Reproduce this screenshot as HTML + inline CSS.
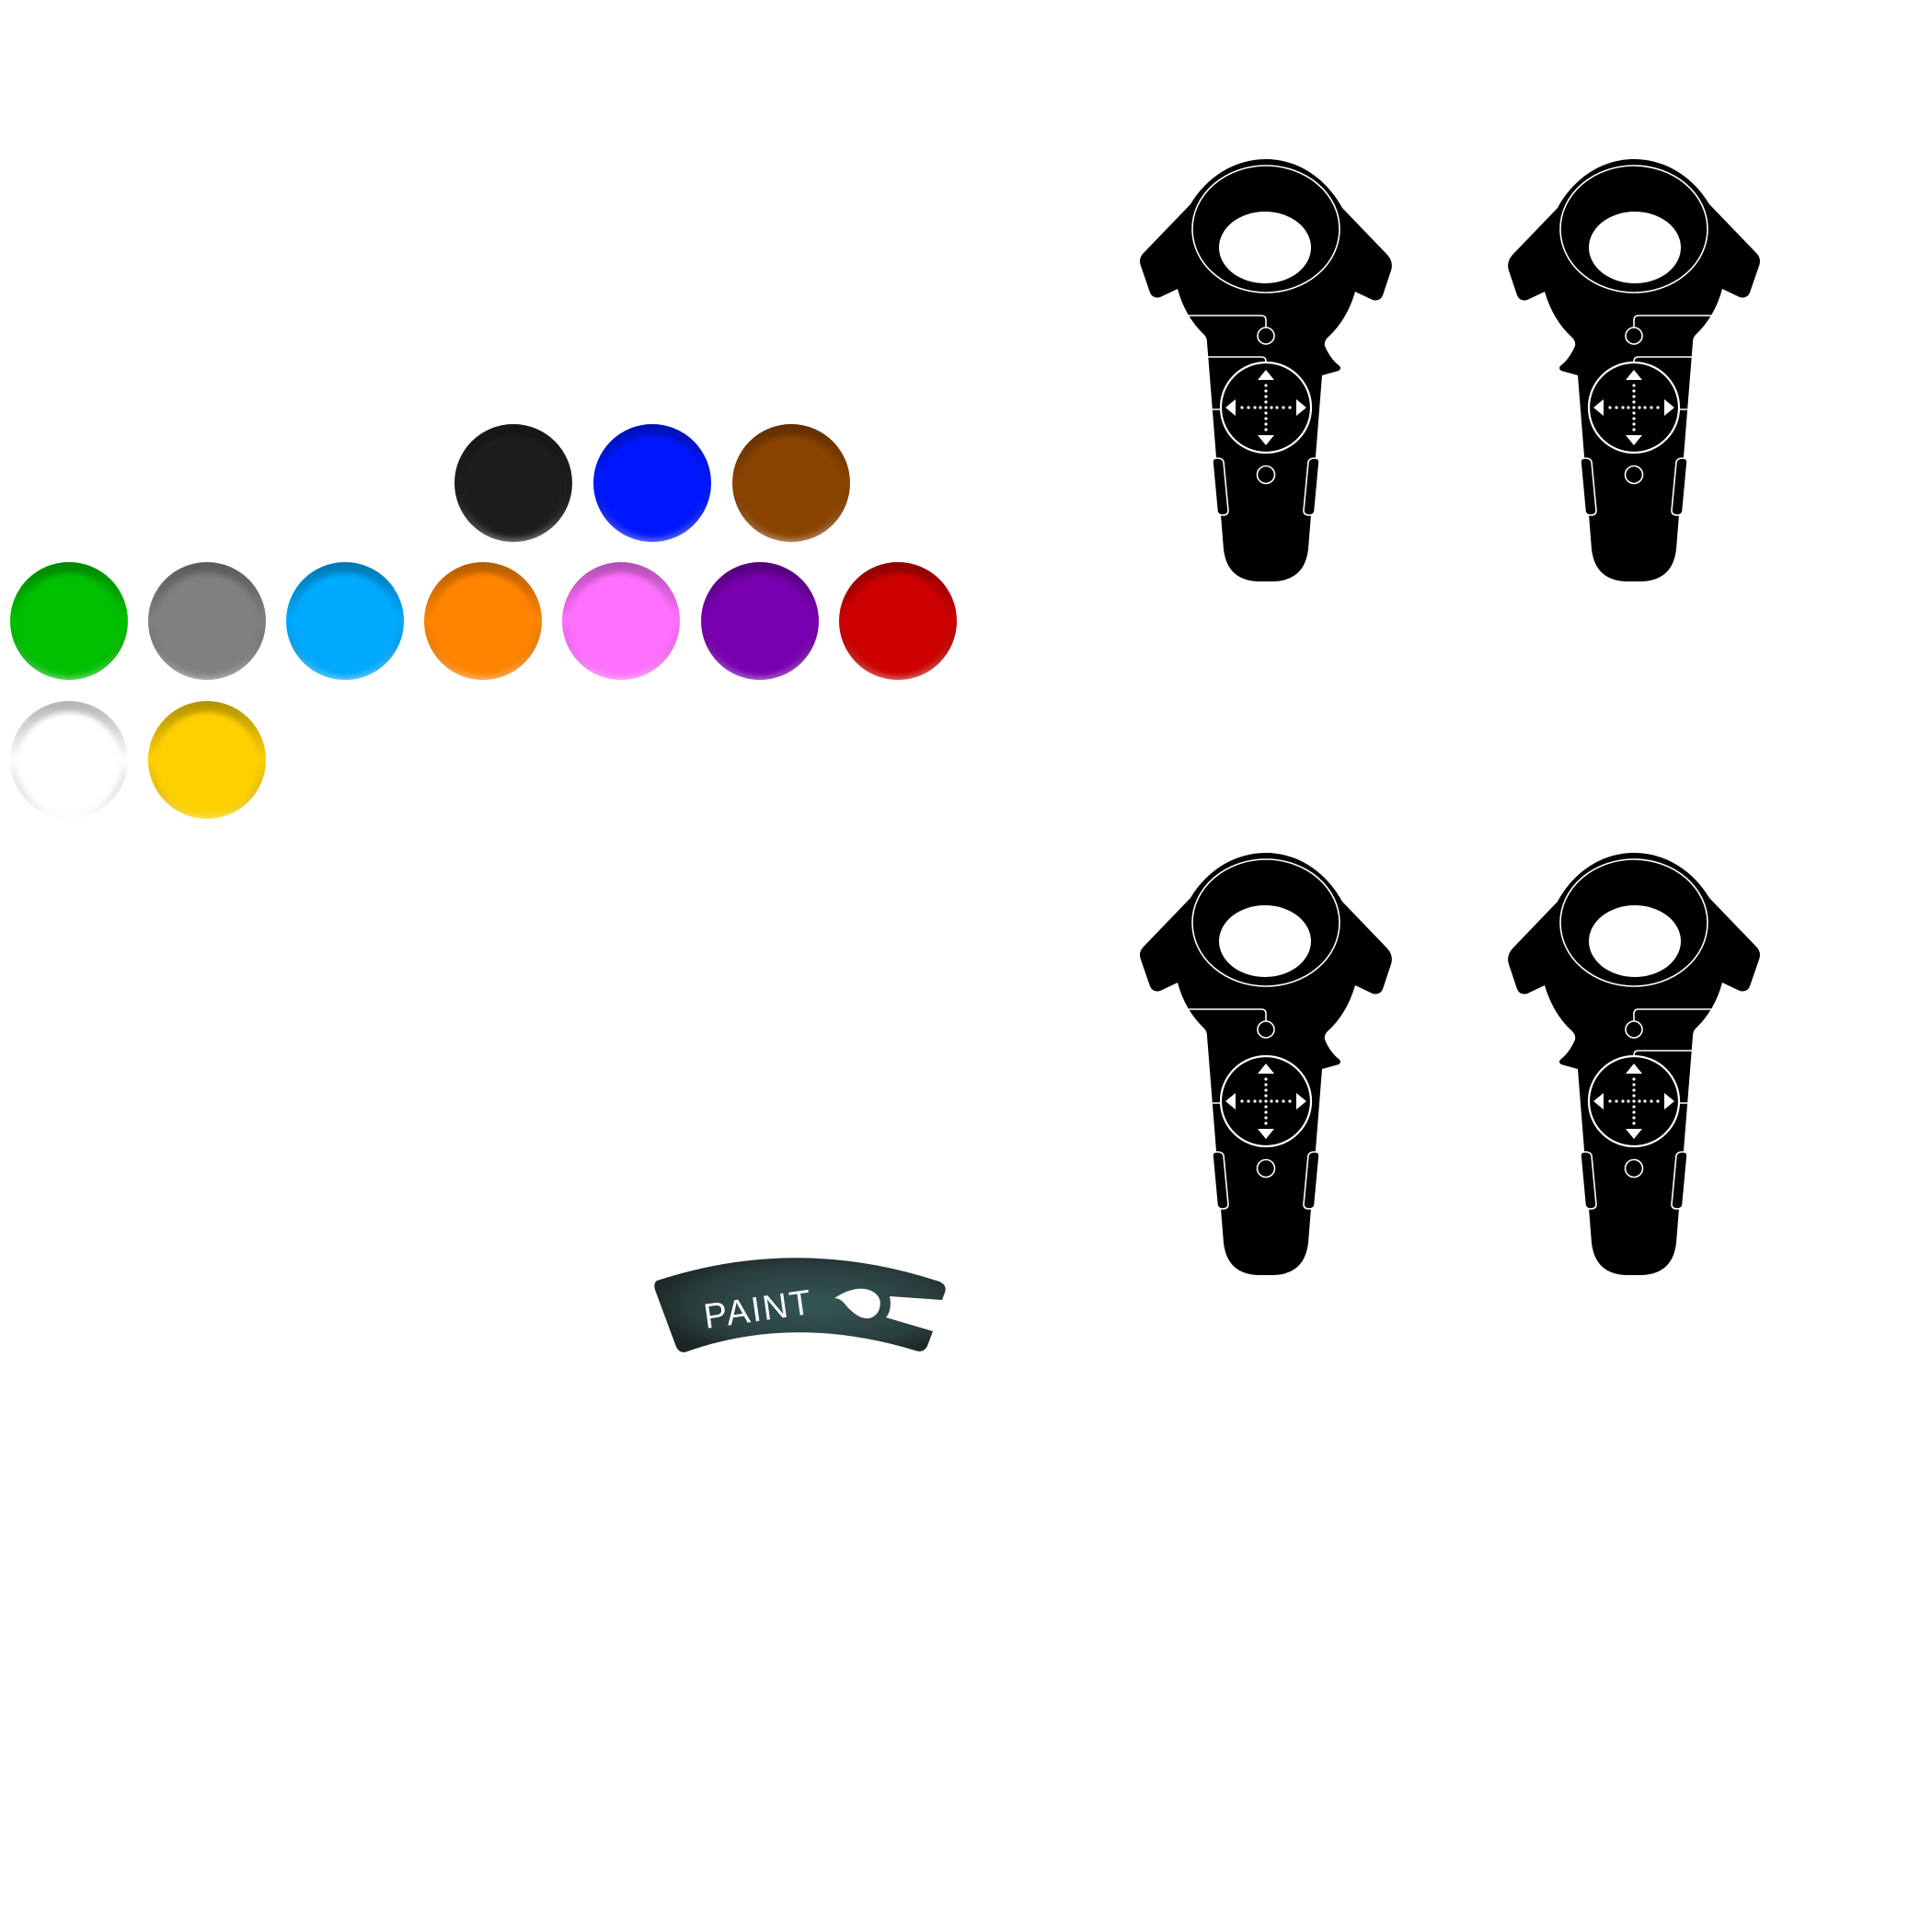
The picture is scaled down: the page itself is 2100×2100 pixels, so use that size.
<!DOCTYPE html>
<html><head><meta charset="utf-8"><style>html,body{margin:0;padding:0;background:#fff}svg{display:block}</style></head>
<body>
<svg width="2100" height="2100" viewBox="0 0 2100 2100" xmlns="http://www.w3.org/2000/svg">
<defs>
<linearGradient id="rim" x1="0" y1="0" x2="0" y2="1">
<stop offset="0" stop-color="#000" stop-opacity="0.3"/>
<stop offset="0.5" stop-color="#000" stop-opacity="0"/>
<stop offset="1" stop-color="#fff" stop-opacity="0.35"/>
</linearGradient>
<filter id="bl" x="-20%" y="-20%" width="140%" height="140%"><feGaussianBlur stdDeviation="3"/></filter>
<radialGradient id="badge" cx="0.55" cy="0.5" r="0.6">
<stop offset="0" stop-color="#345757"/>
<stop offset="0.7" stop-color="#2a3d3d"/>
<stop offset="1" stop-color="#1c2424"/>
</radialGradient>
<g id="ball"><circle r="64" fill="currentColor"/><circle r="64" fill="url(#rim)"/><circle cy="4" r="56" fill="currentColor" filter="url(#bl)"/></g>
<g id="ctrlbase">
<path d="M146,13 C112,13 82,32 64,62 L13,115 Q7,121 10,129 L20,158 Q23,165 31,163 L50,154 Q58,184 79,204 Q82,207 82,212 L100,437 Q104,472 140,472 L152,472 Q188,472 192,437 L207,248 L225,243 Q229,240 225,237 Q216,230 210,216 Q209,211 213,207 Q234,188 243,157 L262,166 Q270,168 273,161 L282,134 Q285,125 278,117 L229,66 C211,33 180,13 146,13 Z" fill="#000"/>
<ellipse cx="146" cy="89" rx="80" ry="69" fill="none" stroke="#fff" stroke-width="1.6"/>
<ellipse cx="145" cy="109" rx="50" ry="39" fill="#fff"/>
<circle cx="146" cy="205" r="9" fill="none" stroke="#fff" stroke-width="1.6"/>
<circle cx="146" cy="283" r="49" fill="none" stroke="#fff" stroke-width="2.2"/>
<circle cx="146" cy="356" r="9.5" fill="none" stroke="#fff" stroke-width="1.6"/>
<path d="M146,242 L155,253 L137,253 Z M146,324 L155,313 L137,313 Z M102,283 L113,274 L113,292 Z M190,283 L179,274 L179,292 Z" fill="#fff"/>
<g fill="#fff"><circle cx="146" cy="259" r="1.6"/><circle cx="146" cy="265" r="1.6"/><circle cx="146" cy="271" r="1.6"/><circle cx="146" cy="277" r="1.6"/><circle cx="146" cy="283" r="1.6"/><circle cx="146" cy="289" r="1.6"/><circle cx="146" cy="295" r="1.6"/><circle cx="146" cy="301" r="1.6"/><circle cx="146" cy="307" r="1.6"/>
<circle cx="120" cy="283" r="1.6"/><circle cx="127" cy="283" r="1.6"/><circle cx="134" cy="283" r="1.6"/><circle cx="140" cy="283" r="1.6"/><circle cx="152" cy="283" r="1.6"/><circle cx="158" cy="283" r="1.6"/><circle cx="165" cy="283" r="1.6"/><circle cx="172" cy="283" r="1.6"/></g>
<path d="M88,342 Q88,338 93,338 Q99,338 100,342 L105,395 Q105,400 99,400 Q94,400 93,396 Z" fill="#000" stroke="#fff" stroke-width="1.6"/>
<path d="M204,342 Q204,338 199,338 Q193,338 192,342 L187,395 Q187,400 193,400 Q198,400 199,396 Z" fill="#000" stroke="#fff" stroke-width="1.6"/>
<line x1="88" y1="285" x2="97" y2="285" stroke="#fff" stroke-width="1.5"/>
<path d="M60,183 L141,183 Q146,183 146,188 L146,196" fill="none" stroke="#fff" stroke-width="1.6"/>
</g>
<path id="l2" d="M82,228 L141,228 Q146,228 146,233 L146,234" fill="none" stroke="#fff" stroke-width="1.6"/>
</defs>

<use href="#ball" x="558" y="525" color="#1e1e1e"/>
<use href="#ball" x="709" y="525" color="#0019ff"/>
<use href="#ball" x="860" y="525" color="#8a4300"/>
<use href="#ball" x="75" y="675" color="#00c000"/>
<use href="#ball" x="225" y="675" color="#808080"/>
<use href="#ball" x="375" y="675" color="#00aaff"/>
<use href="#ball" x="525" y="675" color="#ff8400"/>
<use href="#ball" x="675" y="675" color="#ff70ff"/>
<use href="#ball" x="826" y="675" color="#7800b0"/>
<use href="#ball" x="976" y="675" color="#cc0000"/>
<use href="#ball" x="75" y="826" color="#ffffff"/>
<use href="#ball" x="225" y="826" color="#ffd000"/>

<g transform="translate(1230,160)"><use href="#ctrlbase"/><use href="#l2"/></g>
<g transform="translate(1922,160) scale(-1,1)"><use href="#ctrlbase"/><use href="#l2"/></g>
<g transform="translate(1230,914)"><use href="#ctrlbase"/></g>
<g transform="translate(1922,914) scale(-1,1)"><use href="#ctrlbase"/><use href="#l2"/></g>

<path d="M714,1392 Q867,1342 1021,1393 Q1030,1397 1027,1405 L1024,1413 L967,1409 Q970,1424 963,1432 L1014,1447 L1008,1463 Q1004,1471 995,1468 Q863,1428 747,1469 Q739,1472 735,1464 L712,1402 Q710,1395 714,1392 Z" fill="url(#badge)"/>
<text x="0" y="0" transform="translate(767,1444) rotate(-8)" fill="#fff" font-family="Liberation Sans, sans-serif" font-size="38" letter-spacing="2">PAINT</text>
<path d="M907,1411 Q930,1396 947,1403 Q961,1410 955,1425 Q948,1437 934,1431 Q925,1426 918,1417 Q913,1411 907,1411 Z" fill="#fff"/>
</svg>
</body></html>
